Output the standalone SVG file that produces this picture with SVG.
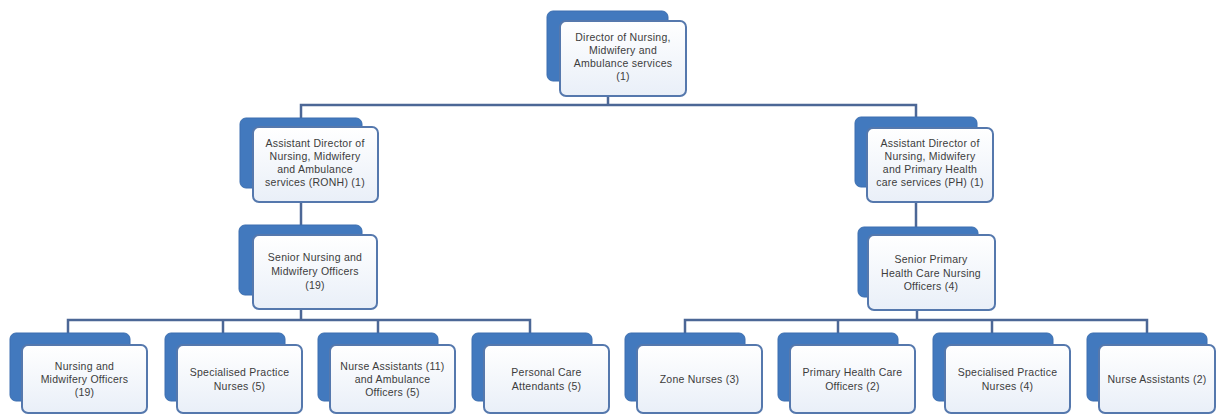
<svg xmlns="http://www.w3.org/2000/svg" width="1216" height="416" viewBox="0 0 1216 416">
  <defs>
    <linearGradient id="cardFill" x1="0" y1="0" x2="0" y2="1">
      <stop offset="0" stop-color="#FFFFFF"/>
      <stop offset="1" stop-color="#E9EFF8"/>
    </linearGradient>
    <style>
      .back { fill: #4279BE; stroke: #3C6FB0; stroke-width: 1; }
      .front { fill: url(#cardFill); stroke: #5578AD; stroke-width: 2; }
      .wire { fill: none; stroke: #4C6796; stroke-width: 2.5; }
      text { font-family: "Liberation Sans", Arial, sans-serif; font-size: 10.5px; letter-spacing: 0.25px; fill: #3C3C3C; text-anchor: middle; }
    </style>
  </defs>

  <rect width="1216" height="416" fill="#FFFFFF"/>

  <!-- connectors -->
  <g id="connectors" class="wire">
    <path d="M608 96 V105"/>
    <path d="M301 118 V105 H916 V117"/>
    <path d="M301 202 V226"/>
    <path d="M916 202 V227"/>
    <path d="M301 309 V320"/>
    <path d="M68 333 V320 H530 V333"/>
    <path d="M223 320 V333"/>
    <path d="M378 320 V333"/>
    <path d="M917 310 V320"/>
    <path d="M685 333 V320 H1147 V333"/>
    <path d="M838 320 V333"/>
    <path d="M992 320 V333"/>
  </g>

  <!-- level 1 -->
  <g id="director">
    <rect class="back" x="547" y="11" width="121" height="70" rx="6"/>
    <rect class="front" x="560" y="21" width="126" height="75" rx="6"/>
    <text x="623" y="41">Director of Nursing,</text>
    <text x="623" y="54">Midwifery and</text>
    <text x="623" y="67">Ambulance services</text>
    <text x="623" y="80">(1)</text>
  </g>

  <!-- level 2 -->
  <g id="asst-ronh">
    <rect class="back" x="240" y="118" width="122" height="70" rx="6"/>
    <rect class="front" x="253" y="127" width="125" height="75" rx="6"/>
    <text x="315" y="147">Assistant Director of</text>
    <text x="315" y="160">Nursing, Midwifery</text>
    <text x="315" y="173">and Ambulance</text>
    <text x="315" y="186">services (RONH) (1)</text>
  </g>
  <g id="asst-ph">
    <rect class="back" x="855" y="117" width="122" height="70" rx="6"/>
    <rect class="front" x="867" y="128" width="126" height="74" rx="6"/>
    <text x="930" y="147">Assistant Director of</text>
    <text x="930" y="160">Nursing, Midwifery</text>
    <text x="930" y="173">and Primary Health</text>
    <text x="930" y="186">care services (PH) (1)</text>
  </g>

  <!-- level 3 -->
  <g id="senior-nmo">
    <rect class="back" x="239" y="225" width="123" height="70" rx="6"/>
    <rect class="front" x="253" y="235" width="124" height="74" rx="6"/>
    <text x="315" y="261">Senior Nursing and</text>
    <text x="315" y="275">Midwifery Officers</text>
    <text x="315" y="289">(19)</text>
  </g>
  <g id="senior-phc">
    <rect class="back" x="858" y="227" width="120" height="70" rx="6"/>
    <rect class="front" x="868" y="235" width="127" height="75" rx="6"/>
    <text x="931" y="263">Senior Primary</text>
    <text x="931" y="277">Health Care Nursing</text>
    <text x="931" y="290">Officers (4)</text>
  </g>

  <!-- level 4 -->
  <g id="nmo">
    <rect class="back" x="10" y="333" width="120" height="68" rx="6"/>
    <rect class="front" x="22" y="345" width="125" height="68" rx="6"/>
    <text x="84.5" y="370">Nursing and</text>
    <text x="84.5" y="383">Midwifery Officers</text>
    <text x="84.5" y="396">(19)</text>
  </g>
  <g id="spn-5">
    <rect class="back" x="165" y="333" width="120" height="68" rx="6"/>
    <rect class="front" x="177" y="345" width="125" height="68" rx="6"/>
    <text x="239.5" y="376">Specialised Practice</text>
    <text x="239.5" y="390">Nurses (5)</text>
  </g>
  <g id="na-ambulance">
    <rect class="back" x="318" y="333" width="120" height="68" rx="6"/>
    <rect class="front" x="330" y="345" width="125" height="68" rx="6"/>
    <text x="392.5" y="370">Nurse Assistants (11)</text>
    <text x="392.5" y="383">and Ambulance</text>
    <text x="392.5" y="396">Officers (5)</text>
  </g>
  <g id="pca">
    <rect class="back" x="472" y="333" width="120" height="68" rx="6"/>
    <rect class="front" x="484" y="345" width="125" height="68" rx="6"/>
    <text x="546.5" y="376">Personal Care</text>
    <text x="546.5" y="390">Attendants (5)</text>
  </g>
  <g id="zone">
    <rect class="back" x="625" y="333" width="120" height="68" rx="6"/>
    <rect class="front" x="637" y="345" width="125" height="68" rx="6"/>
    <text x="699.5" y="383">Zone Nurses (3)</text>
  </g>
  <g id="phco">
    <rect class="back" x="778" y="333" width="120" height="68" rx="6"/>
    <rect class="front" x="790" y="345" width="125" height="68" rx="6"/>
    <text x="852.5" y="376">Primary Health Care</text>
    <text x="852.5" y="390">Officers (2)</text>
  </g>
  <g id="spn-4">
    <rect class="back" x="933" y="333" width="120" height="68" rx="6"/>
    <rect class="front" x="945" y="345" width="125" height="68" rx="6"/>
    <text x="1007.5" y="376">Specialised Practice</text>
    <text x="1007.5" y="390">Nurses (4)</text>
  </g>
  <g id="na-2">
    <rect class="back" x="1087" y="333" width="120" height="68" rx="6"/>
    <rect class="front" x="1099" y="345" width="116" height="68" rx="6"/>
    <text x="1157" y="383">Nurse Assistants (2)</text>
  </g>
</svg>
